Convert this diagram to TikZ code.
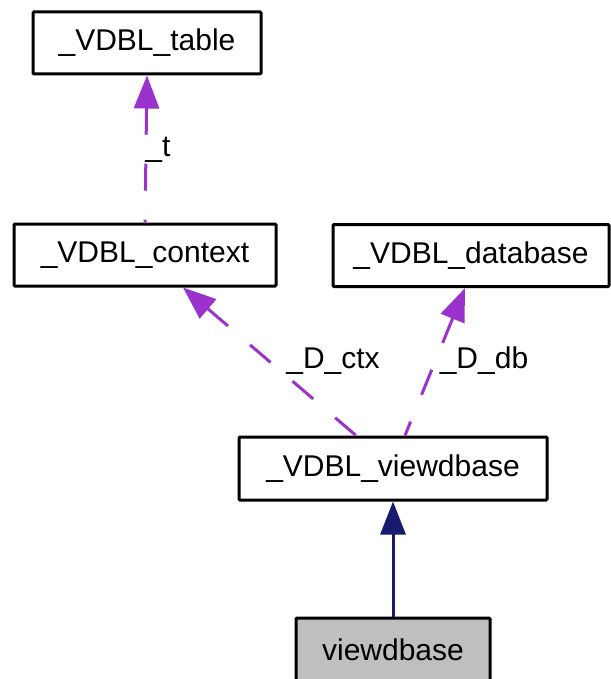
\documentclass[tikz,border=0pt]{standalone}
\usepackage{fontspec}
\setmainfont{Liberation Sans}
\usetikzlibrary{arrows.meta,calc}
\definecolor{edgepurple}{RGB}{154,50,205}
\definecolor{edgenavy}{RGB}{25,25,112}
\definecolor{leafgray}{RGB}{191,191,191}
\begin{document}
\begin{tikzpicture}[x=1pt,y=-1pt,
  box/.style={draw=black, line width=3pt, rounded corners=1pt, minimum height=62pt,
    inner sep=0pt, font=\fontsize{30}{36}\selectfont, text=black},
  lbl/.style={inner sep=0pt, font=\fontsize{30}{36}\selectfont, text=black},
  dedge/.style={draw=edgepurple, line width=3pt, dash pattern=on 27pt off 29pt,
    {Triangle[length=33pt,width=25pt,fill=edgepurple]}-},
  sedge/.style={draw=edgenavy, line width=3pt,
    {Triangle[length=33pt,width=25pt,fill=edgenavy]}-}]
\useasboundingbox (0,0) rectangle (610,679);
\node[box, minimum width=228pt] (tab) at (147,43) {\_VDBL\_table};
\node[box, minimum width=262pt] (ctx) at (145,255) {\_VDBL\_context};
\node[box, minimum width=276pt] (db) at (471,255.5) {\_VDBL\_database};
\node[box, minimum width=308pt, minimum height=63pt] (vb) at (393,468.5) {\_VDBL\_viewdbase};
\node[box, minimum width=194pt, minimum height=63pt, fill=leafgray] (leaf) at (393,649.5) {viewdbase};
\draw[dedge] (tab.south) -- (ctx.north);
\draw[dedge] ($(ctx.south)+(38,0)$) -- ($(vb.north)+(-37,0)$);
\draw[dedge] ($(db.south)+(-6,0)$) -- ($(vb.north)+(12,0)$);
\draw[sedge] (vb.south) -- (leaf.north);
\node[lbl] (lt) at (158,150) {\_t};
\node[lbl] (lctx) at (333,361) {\_D\_ctx};
\node[lbl] (ldb) at (484,361) {\_D\_db};
\end{tikzpicture}
\end{document}
